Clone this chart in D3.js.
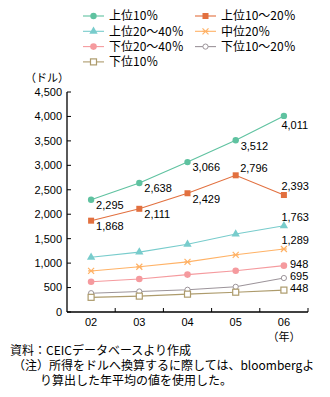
<!DOCTYPE html>
<html>
<head>
<meta charset="utf-8">
<script src="https://cdn.jsdelivr.net/npm/d3@7"></script>
<style>
  body { margin: 0; background: #fff; }
  svg text { font-family: "Liberation Sans", "Noto Sans CJK JP", sans-serif; font-size: 11px; fill: #000; }
  svg text.big { font-family: "Noto Sans CJK JP", "Noto Sans", sans-serif; font-size: 12px; }
</style>
</head>
<body>
<div id="chart"></div>
<script>
// data
const years = ["02", "03", "04", "05", "06"];
const seriesNames = ["上位10％", "上位10～20％", "上位20～40％", "中位20％", "下位20～40％", "下位10～20％", "下位10％"];
const top10 = [2295, 2638, 3066, 3512, 4011];
const top10to20 = [1868, 2111, 2429, 2796, 2393];
const top20to40 = [1120, 1225, 1385, 1595, 1763];
const middle20 = [840, 925, 1025, 1170, 1289];
const low20to40 = [620, 675, 765, 845, 948];
const low10to20 = [385, 420, 455, 515, 695];
const low10 = [300, 325, 365, 405, 448];
const yTicks = [0, 500, 1000, 1500, 2000, 2500, 3000, 3500, 4000, 4500];

const width = 330, height = 397;
const margin = {left: 67, right: 22, top: 92, bottom: 85};

const svg = d3.select("#chart").append("svg")
  .attr("width", width).attr("height", height);

const x = d3.scaleBand().domain(years).range([margin.left, width - margin.right]);
const y = d3.scaleLinear().domain([0, 4500]).range([height - margin.bottom, margin.top]);
const cx = d => x(d) + x.bandwidth() / 2;

// series settings: colour, marker, which labels get shown and where
const series = [
  {name: seriesNames[0], values: top10, color: "#5fc2a0", marker: "circle", labels: [0,1,2,3,4], place: ["br","br","br","br","b"]},
  {name: seriesNames[1], values: top10to20, color: "#e2703f", marker: "square", labels: [0,1,2,3,4], place: ["br","br","br","ar","a"]},
  {name: seriesNames[2], values: top20to40, color: "#78cccc", marker: "triangle", labels: [4], place: {4: "a"}},
  {name: seriesNames[3], values: middle20, color: "#ffb266", marker: "star", labels: [4], place: {4: "a"}},
  {name: seriesNames[4], values: low20to40, color: "#f59a9e", marker: "diamond", labels: [4], place: {4: "r"}},
  {name: seriesNames[5], values: low10to20, color: "#9c949a", marker: "ocircle", labels: [4], place: {4: "r"}},
  {name: seriesNames[6], values: low10, color: "#ad9b6c", marker: "osquare", labels: [4], place: {4: "r"}}
];

function drawMarker(g, type, color) {
  if (type === "circle") g.append("circle").attr("r", 3.2).attr("fill", color);
  else if (type === "square") g.append("rect").attr("x", -3).attr("y", -3).attr("width", 6).attr("height", 6).attr("fill", color);
  else if (type === "triangle") g.append("path").attr("d", d3.symbol(d3.symbolTriangle, 30)()).attr("fill", color);
  else if (type === "star") g.append("path").attr("d", "M-3,-3L3,3M-3,3L3,-3M-3,0L3,0").attr("stroke", color).attr("stroke-width", 1.2).attr("fill", "none");
  else if (type === "diamond") g.append("circle").attr("r", 3.3).attr("fill", color);
  else if (type === "ocircle") g.append("circle").attr("r", 2.6).attr("fill", "#fff").attr("stroke", color).attr("stroke-width", 1);
  else if (type === "osquare") g.append("rect").attr("x", -3).attr("y", -3).attr("width", 6).attr("height", 6).attr("fill", "#fff").attr("stroke", color).attr("stroke-width", 1.2);
}

// axes
svg.append("line").attr("x1", margin.left).attr("x2", margin.left)
  .attr("y1", y(4500)).attr("y2", y(0)).attr("stroke", "#000").attr("stroke-width", 1.3);
svg.append("line").attr("x1", margin.left).attr("x2", width - margin.right)
  .attr("y1", y(0)).attr("y2", y(0)).attr("stroke", "#000").attr("stroke-width", 1.3);

yTicks.forEach(t => {
  svg.append("line").attr("x1", margin.left).attr("x2", margin.left + 4)
    .attr("y1", y(t)).attr("y2", y(t)).attr("stroke", "#000");
  svg.append("text").attr("x", margin.left - 5).attr("y", y(t)).attr("dy", "0.35em")
    .attr("text-anchor", "end").text(d3.format(",")(t));
});

// x ticks at band edges
years.forEach((yr, i) => {
  const bx = x(yr) + x.bandwidth();
  svg.append("line").attr("x1", bx).attr("x2", bx)
    .attr("y1", y(0)).attr("y2", y(0) - 4).attr("stroke", "#000");
  svg.append("text").attr("x", cx(yr)).attr("y", y(0) + 10.5).attr("dy", "0.35em")
    .attr("text-anchor", "middle").text(yr);
});
svg.append("text").attr("x", cx("06")).attr("y", y(0) + 25).attr("dy", "0.35em")
  .attr("text-anchor", "middle").text("（年）");
svg.append("text").attr("x", 47).attr("y", 78).attr("dy", "0.35em")
  .attr("text-anchor", "middle").text("（ドル）");

// lines and markers
const line = d3.line().x((d, i) => cx(years[i])).y(d => y(d));
series.forEach(s => {
  svg.append("path").datum(s.values).attr("d", line)
    .attr("fill", "none").attr("stroke", s.color).attr("stroke-width", 1.1);
  s.values.forEach((v, i) => {
    const g = svg.append("g").attr("transform", `translate(${cx(years[i])},${y(v)})`);
    drawMarker(g, s.marker, s.color);
  });
  s.labels.forEach(i => {
    const p = s.place[i];
    let dx = 5, dy = 5.5;
    if (p === "b") { dx = -2.5; dy = 9.5; }
    if (p === "ar") { dx = 4.5; dy = -7; }
    if (p === "a") { dx = -2.5; dy = -9; }
    if (p === "r") { dx = 6; dy = -1.5; }
    svg.append("text").attr("x", cx(years[i]) + dx).attr("y", y(s.values[i]) + dy)
      .attr("dy", "0.35em")
      .text(d3.format(",")(s.values[i]));
  });
});

// legend
const legend = svg.append("g");
series.forEach((s, i) => {
  const lx = i % 2 === 0 ? 83 : 195;
  const ly = 16 + Math.floor(i / 2) * 15.3;
  legend.append("line").attr("x1", lx).attr("x2", lx + 21).attr("y1", ly).attr("y2", ly)
    .attr("stroke", s.color).attr("stroke-width", 1.1);
  drawMarker(legend.append("g").attr("transform", `translate(${lx + 10.5},${ly})`), s.marker, s.color);
  legend.append("text").attr("class", "big").attr("x", lx + 26).attr("y", ly).attr("dy", "0.35em").text(s.name);
});

// notes
svg.append("text").attr("class", "big").attr("x", 10).attr("y", 351).attr("dy", "0.35em").text("資料：CEICデータベースより作成");
svg.append("text").attr("class", "big").attr("x", 13).attr("y", 366).attr("dy", "0.35em").text("（注）所得をドルへ換算するに際しては、bloombergよ");
svg.append("text").attr("class", "big").attr("x", 40).attr("y", 381).attr("dy", "0.35em").text("り算出した年平均の値を使用した。");
</script>
</body>
</html>
